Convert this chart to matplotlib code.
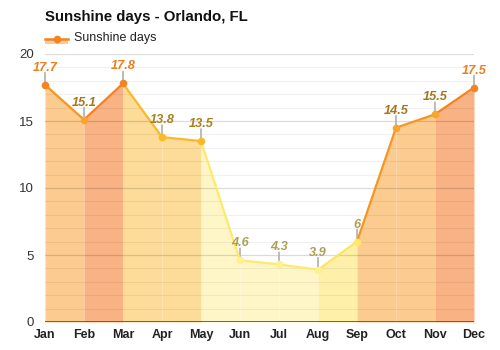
import matplotlib
matplotlib.use("Agg")
import matplotlib.pyplot as plt
from matplotlib.patches import Rectangle
from matplotlib.lines import Line2D

plt.rcParams['font.family'] = ['Liberation Sans', 'DejaVu Sans']

months = ["Jan", "Feb", "Mar", "Apr", "May", "Jun", "Jul", "Aug", "Sep", "Oct", "Nov", "Dec"]
sunshine_days = [17.7, 15.1, 17.8, 13.8, 13.5, 4.6, 4.3, 3.9, 6, 14.5, 15.5, 17.5]
y_ticks = [0, 5, 10, 15, 20]
title = "Sunshine days - Orlando, FL"
legend_label = "Sunshine days"

def level(v):
    if v >= 17:
        return 3
    if v >= 14.5:
        return 2
    if v >= 10:
        return 1
    if v >= 5:
        return 0.5
    return 0

fill_colors = {3: "#F9B283", 2: "#FCCB8F", 1: "#FDDB98", 0.5: "#FEF0A8", 0: "#FFF6C8"}
line_colors = {3: "#F5821F", 2: "#F7961E", 1: "#FBB829", 0.5: "#FFE45E", 0: "#FFE96B"}
marker_colors = {3: "#F38424", 2: "#F9A42A", 1: "#FBB829", 0.5: "#FFE86A", 0: "#FFF08A"}
label_colors = {3: "#F07D1E", 2: "#A8761A", 1: "#A8801E", 0.5: "#ADA055", 0: "#ADA055"}

fig = plt.figure(figsize=(5, 3.5), dpi=100)
ax = fig.add_axes([45/500, 1 - 322/350, (474 - 45)/500, (322 - 54)/350])
ax.set_xlim(0, len(months) - 1)
ax.set_ylim(0, 20)

x = list(range(len(months)))
# fills and lines per segment (colour by end value)
for i in range(len(months) - 1):
    lv = level(sunshine_days[i + 1])
    ax.fill_between([x[i], x[i + 1]], [sunshine_days[i], sunshine_days[i + 1]], 0,
                    color=fill_colors[lv], linewidth=0, zorder=1)
    ax.plot([x[i], x[i + 1]], [sunshine_days[i], sunshine_days[i + 1]],
            color=line_colors[lv], linewidth=1.6, zorder=3, solid_capstyle='round')

# grid lines
for v in range(1, 21):
    if v % 5 == 0:
        ax.axhline(v, color="black", alpha=0.14, linewidth=0.9, zorder=2)
    else:
        ax.axhline(v, color="black", alpha=0.06, linewidth=0.8, zorder=2)
ax.axhline(0, color="#5A5A4E", linewidth=1.3, zorder=4)

# markers, stems and value labels
for xi, v in zip(x, sunshine_days):
    lv = level(v)
    ax.annotate("", xy=(xi, v), xytext=(0, 12), textcoords="offset pixels",
                arrowprops=dict(arrowstyle="-", color="#B5B5B5", lw=1.3,
                                shrinkA=0, shrinkB=0), zorder=2.5)
    ax.plot([xi], [v], marker="o", markersize=5.5, color=marker_colors[lv],
            markeredgewidth=0, zorder=5, clip_on=False)
    ax.annotate(f"{v:g}", xy=(xi, v), xytext=(0, 17), textcoords="offset pixels",
                ha="center", va="center", fontsize=9.2, fontweight="bold",
                fontstyle="italic", color=label_colors[lv], zorder=6,
                annotation_clip=False)

for s in ax.spines.values():
    s.set_visible(False)
ax.set_xticks(x)
ax.set_xticklabels(months, fontsize=9, fontweight="bold", color="#222222")
ax.set_yticks(y_ticks)
ax.set_yticklabels([str(t) for t in y_ticks], fontsize=9.5, color="#333333")
ax.tick_params(axis="both", length=0)
ax.tick_params(axis="y", pad=8)
ax.tick_params(axis="x", pad=5)

fig.text(45/500, 1 - 16.5/350, title, fontsize=10.8, fontweight="bold",
         ha="left", va="center", color="#111111")

# legend
fig.patches.append(Rectangle((45/500, 1 - 43.5/350), 23/500, 5/350,
                             transform=fig.transFigure, facecolor="#FCCB8F",
                             edgecolor="none", figure=fig))
fig.lines.append(Line2D([45/500, 68/500], [1 - 38.7/350, 1 - 38.7/350],
                        transform=fig.transFigure, color="#F5821F", linewidth=1.8,
                        figure=fig))
fig.lines.append(Line2D([57/500], [1 - 38.7/350], transform=fig.transFigure,
                        marker="o", markersize=5.5, color="#F38424",
                        markeredgewidth=0, figure=fig))
fig.text(74/500, 1 - 38.5/350, legend_label, fontsize=9, ha="left", va="center",
         color="#222222")

fig.savefig("out.png", dpi=100)
